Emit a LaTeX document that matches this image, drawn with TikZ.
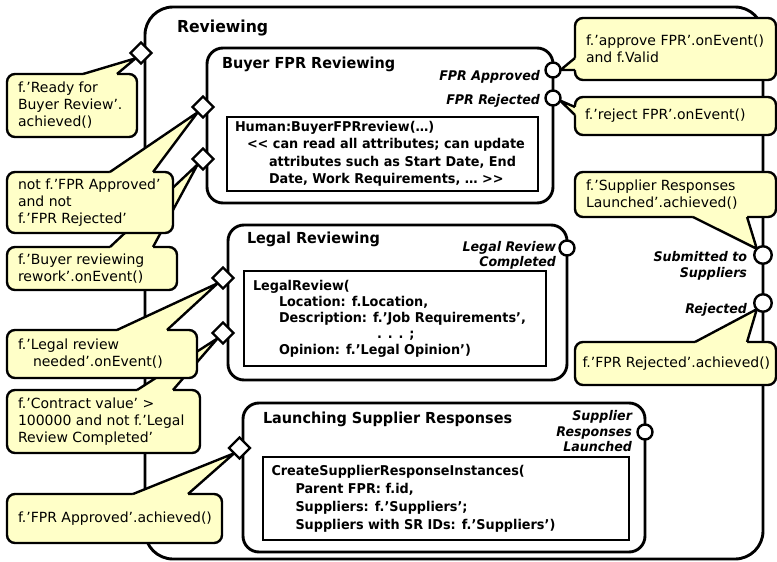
\documentclass[tikz,border=0pt]{standalone}
\usepackage{fontspec}
\setmainfont{DejaVu Sans}[BoldFeatures={FakeStretch=0.95},BoldItalicFeatures={FakeStretch=0.95}]
\usetikzlibrary{shapes.geometric,calc}
\definecolor{notefill}{RGB}{255,255,200}
% double angle brackets without the TeX ligature
\newcommand\dlt{<\kern0pt<}
\newcommand\dgt{>\kern0pt>}
% callout pointer: base points #1,#2 on the note border, tip #3, #4 shift into the note
\newcommand\notepointer[4]{%
  \fill[notefill] (#1) -- (#3) -- (#2) -- ([#4]#2) -- ([#4]#1) -- cycle;
  \draw[pointerline] (#1) -- (#3) -- (#2);}
\pgfdeclarelayer{front}
\pgfsetlayers{main,front}
\tikzset{
  outerbox/.style={draw, line width=2.9pt, fill=white, rounded corners=28pt},
  statebox/.style={draw, line width=2.9pt, fill=white, rounded corners=16pt},
  taskbox/.style={draw, line width=2pt, fill=white},
  note/.style={draw, line width=2.4pt, fill=notefill, rounded corners=8pt},
  notetext/.style={font=\fontsize{14}{17}\selectfont, align=left, anchor=west},
  tasktext/.style={font=\bfseries\fontsize{13.5}{17.5}\selectfont, align=left, anchor=west},
  boxtitle/.style={font=\bfseries\fontsize{15.2}{18}\selectfont, anchor=base west},
  portlabel/.style={font=\bfseries\itshape\fontsize{13.3}{15.5}\selectfont, align=right, anchor=east},
  gate/.style={diamond, aspect=1, draw, fill=white, line width=2.4pt, minimum width=21pt, minimum height=21pt},
  port/.style={circle, draw, fill=white, line width=2.4pt, minimum size=#1},
  port/.default=15pt,
  pointerline/.style={line width=2.4pt, line join=round},
}
\begin{document}
\begin{tikzpicture}[x=1pt, y=-1pt, every node/.style={inner sep=0pt, outer sep=0pt}]
\useasboundingbox (0,0) rectangle (777,562);
\fill[white] (0,0) rectangle (777,562);

% entry gates and exit ports (drawn above everything else)
\begin{pgfonlayer}{front}
  \node[gate] (dR)  at (141,53) {};
  \node[gate] (dB1) at (203,107) {};
  \node[gate] (dB2) at (203,159) {};
  \node[gate] (dL1) at (223,278) {};
  \node[gate] (dL2) at (223,333) {};
  \node[gate] (dS)  at (239.5,448) {};
  \node[port] (pA)  at (553,70) {};
  \node[port] (pR)  at (553,98) {};
  \node[port] (pL)  at (567,248) {};
  \node[port] (pSR) at (645,432) {};
  \node[port=17.5pt] (pS) at (763,255) {};
  \node[port=17.5pt] (pJ) at (763,303) {};
\end{pgfonlayer}

% stage: Reviewing
\node[outerbox, minimum width=618pt, minimum height=552pt] (rev) at (454,283) {};
\node[font=\bfseries\fontsize{16.5}{19}\selectfont, anchor=base west] (revT) at (177,32) {Reviewing};

% substage: Buyer FPR Reviewing
\node[statebox, minimum width=346pt, minimum height=155pt] (buyer) at (380,125.5) {};
\node[boxtitle] (buyerT) at (222,68) {Buyer FPR Reviewing};
\node[taskbox, minimum width=311pt, minimum height=74pt] (human) at (382.5,154) {};
\node[tasktext] (humanT) at ([xshift=8pt]human.west) {Human:BuyerFPRreview(…)\\
  \hspace*{12pt}\dlt{} can read all attributes; can update\\
  \hspace*{34pt}attributes such as Start Date, End\\
  \hspace*{34pt}Date, Work Requirements, … \dgt};
\node[portlabel] (lA) at (540,77) {FPR Approved};
\node[portlabel] (lR) at (540,101) {FPR Rejected};

% substage: Legal Reviewing
\node[statebox, minimum width=339pt, minimum height=155pt] (legal) at (397.5,302.5) {};
\node[boxtitle] (legalT) at (247,243) {Legal Reviewing};
\node[taskbox, minimum width=302pt, minimum height=95pt] (legalTask) at (395,318.5) {};
\node[tasktext, font=\bfseries\fontsize{13.5}{16}\selectfont] (legalTaskT) at ([xshift=9pt]legalTask.west) {LegalReview(\\
  \hspace*{26pt}Location: f.Location,\\
  \hspace*{26pt}Description: f.’Job Requirements’,\\
  \hspace*{124pt}. . . ;\\
  \hspace*{26pt}Opinion: f.’Legal Opinion’)};
\node[portlabel] (lL) at (556,255.5) {Legal Review\\Completed};

% substage: Launching Supplier Responses
\node[statebox, minimum width=402pt, minimum height=149pt] (launch) at (444,477.5) {};
\node[boxtitle] (launchT) at (263,423) {Launching Supplier Responses};
\node[taskbox, minimum width=366pt, minimum height=83pt] (create) at (446,498.5) {};
\node[tasktext, font=\bfseries\fontsize{13.5}{18}\selectfont] (createT) at ([xshift=8.5pt]create.west) {CreateSupplierResponseInstances(\\
  \hspace*{24pt}Parent FPR: f.id,\\
  \hspace*{24pt}Suppliers: f.’Suppliers’;\\
  \hspace*{24pt}Suppliers with SR IDs: f.’Suppliers’)};
\node[portlabel] (lSR) at (632,431.5) {Supplier\\Responses\\Launched};

% exit labels of the Reviewing stage
\node[portlabel] (lS) at (747,266) {Submitted to\\Suppliers};
\node[portlabel] (lJ) at (747,310) {Rejected};

% ---- guard notes, left column ----
\node[note, minimum width=130pt, minimum height=63pt] (c1) at (72,105.5) {};
\coordinate (c1a) at ($(c1.north west)!0.585!(c1.north east)$);
\coordinate (c1b) at ($(c1.north west)!0.846!(c1.north east)$);
\coordinate (c1tip) at ($(dR.west)!0.5!(dR.south)$);
\notepointer{c1a}{c1b}{c1tip}{yshift=-2pt}
\node[notetext] (c1T) at ([xshift=11pt]c1.west) {f.’Ready for\\Buyer Review’.\\achieved()};

\node[note, minimum width=170pt, minimum height=43pt] (c3) at (92,268.5) {};
\coordinate (c3a) at ($(c3.north west)!0.606!(c3.north east)$);
\coordinate (c3b) at ($(c3.north west)!0.859!(c3.north east)$);
\coordinate (c3tip) at ($(dB2.west)!0.5!(dB2.south)$);
\notepointer{c3a}{c3b}{c3tip}{yshift=-2pt}
\node[notetext] (c3T) at ([xshift=11pt]c3.west) {f.’Buyer reviewing\\rework’.onEvent()};

\node[note, minimum width=166pt, minimum height=61pt] (c2) at (90,202.5) {};
\coordinate (c2a) at ($(c2.north west)!0.62!(c2.north east)$);
\coordinate (c2b) at ($(c2.north west)!0.88!(c2.north east)$);
\coordinate (c2tip) at ($(dB1.west)!0.5!(dB1.south)$);
\notepointer{c2a}{c2b}{c2tip}{yshift=-2pt}
\node[notetext] (c2T) at ([xshift=11pt]c2.west) {not f.’FPR Approved’\\and not\\f.’FPR Rejected’};

\node[note, minimum width=193pt, minimum height=63pt] (c5) at (103.5,421.5) {};
\coordinate (c5a) at ($(c5.north west)!0.674!(c5.north east)$);
\coordinate (c5b) at ($(c5.north west)!0.86!(c5.north east)$);
\coordinate (c5tip) at ($(dL2.west)!0.5!(dL2.south)$);
\notepointer{c5a}{c5b}{c5tip}{yshift=-2pt}
\node[notetext] (c5T) at ([xshift=11pt]c5.west) {f.’Contract value’ >\\100000 and not f.’Legal\\Review Completed’};

\node[note, minimum width=190pt, minimum height=48pt] (c4) at (102,354) {};
\coordinate (c4a) at ($(c4.north west)!0.579!(c4.north east)$);
\coordinate (c4b) at ($(c4.north west)!0.842!(c4.north east)$);
\coordinate (c4tip) at ($(dL1.west)!0.5!(dL1.south)$);
\notepointer{c4a}{c4b}{c4tip}{yshift=-2pt}
\node[notetext] (c4T) at ([xshift=11pt]c4.west) {f.’Legal review\\\hspace*{15pt}needed’.onEvent()};

\node[note, minimum width=215pt, minimum height=49pt] (c6) at (114.5,518.5) {};
\coordinate (c6a) at ($(c6.north west)!0.586!(c6.north east)$);
\coordinate (c6b) at ($(c6.north west)!0.842!(c6.north east)$);
\coordinate (c6tip) at ($(dS.west)!0.5!(dS.south)$);
\notepointer{c6a}{c6b}{c6tip}{yshift=-2pt}
\node[notetext] (c6T) at ([xshift=11pt]c6.west) {f.’FPR Approved’.achieved()};

% ---- milestone notes, right column ----
\node[note, minimum width=201pt, minimum height=62pt] (c7) at (675.5,49) {};
\coordinate (c7a) at ($(c7.north west)!0.645!(c7.south west)$);
\coordinate (c7b) at ($(c7.north west)!0.839!(c7.south west)$);
\notepointer{c7a}{c7b}{pA.east}{xshift=2pt}
\node[notetext] (c7T) at ([xshift=11pt]c7.west) {f.’approve FPR’.onEvent()\\and f.Valid};

\node[note, minimum width=201pt, minimum height=38pt] (c8) at (675.5,116) {};
\coordinate (c8a) at ($(c8.north west)!0.263!(c8.south west)$);
\coordinate (c8b) at ($(c8.north west)!0.474!(c8.south west)$);
\notepointer{c8a}{c8b}{pR.-20}{xshift=2pt}
\node[notetext] (c8T) at ([xshift=10pt]c8.west) {f.’reject FPR’.onEvent()};

\node[note, minimum width=201pt, minimum height=45pt] (c9) at (675.5,194.5) {};
\coordinate (c9a) at ($(c9.south west)!0.587!(c9.south east)$);
\coordinate (c9b) at ($(c9.south west)!0.856!(c9.south east)$);
\notepointer{c9a}{c9b}{pS.135}{yshift=2pt}
\node[notetext] (c9T) at ([xshift=11pt]c9.west) {f.’Supplier Responses\\Launched’.achieved()};

\node[note, minimum width=201pt, minimum height=43pt] (c10) at (675.5,363.5) {};
\coordinate (c10a) at ($(c10.north west)!0.597!(c10.north east)$);
\coordinate (c10b) at ($(c10.north west)!0.856!(c10.north east)$);
\notepointer{c10a}{c10b}{pJ.225}{yshift=-2pt}
\node[notetext] (c10T) at ([xshift=7.5pt]c10.west) {f.’FPR Rejected’.achieved()};
\end{tikzpicture}
\end{document}
